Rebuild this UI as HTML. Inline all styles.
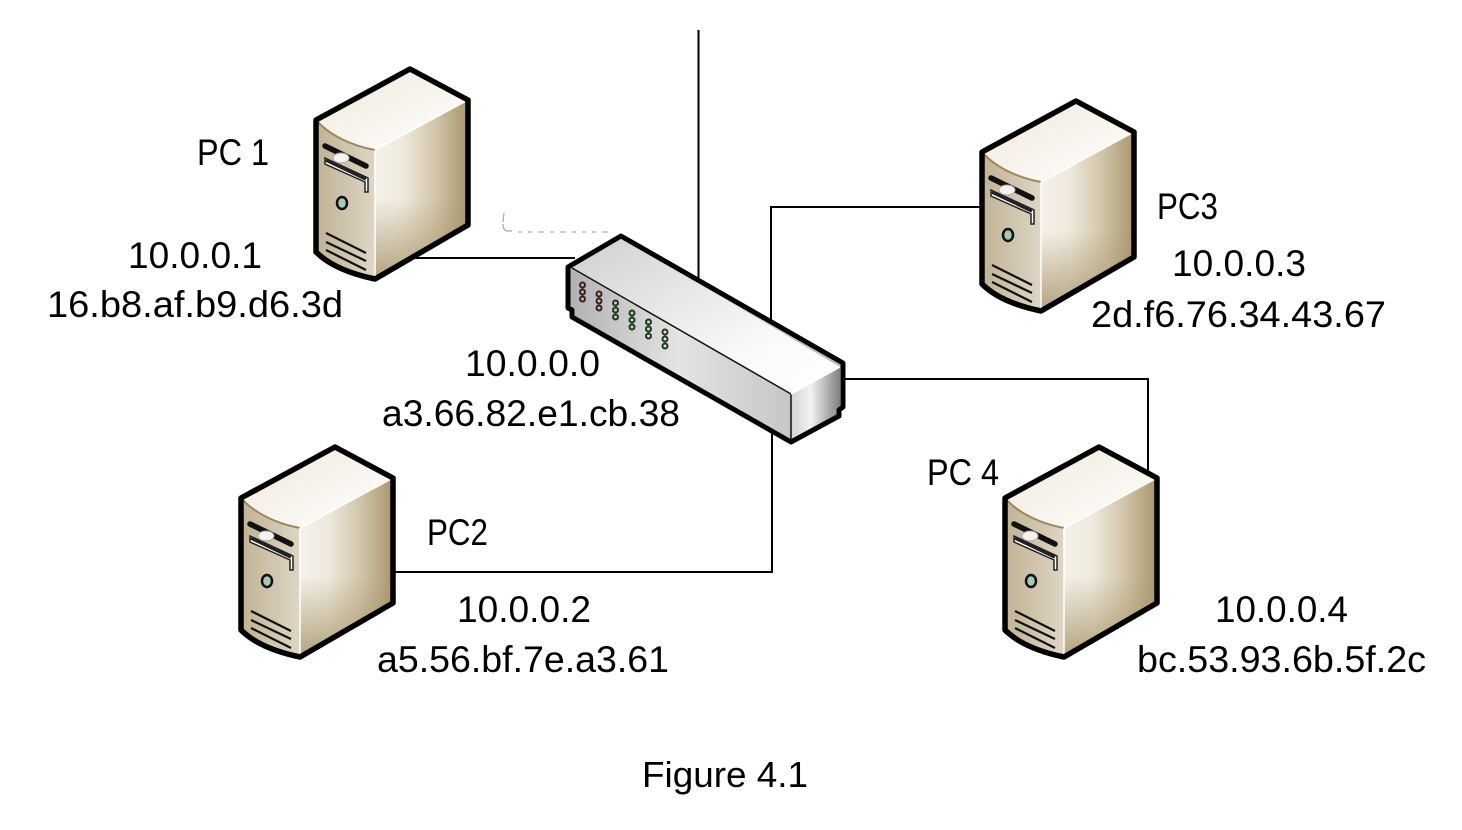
<!DOCTYPE html>
<html><head><meta charset="utf-8">
<style>html,body{margin:0;padding:0;background:#fff}svg{display:block}
text{font-family:"Liberation Sans",sans-serif;fill:#000;font-size:37px}</style></head>
<body>
<svg width="1462" height="830" viewBox="0 0 1462 830" xmlns="http://www.w3.org/2000/svg">
<defs>
<linearGradient id="side" x1="0" y1="0" x2="1" y2="0"><stop offset="0" stop-color="#f4f1e9"/><stop offset=".3" stop-color="#efeade"/><stop offset=".65" stop-color="#d2c5aa"/><stop offset="1" stop-color="#a8966c"/></linearGradient>
<linearGradient id="sideV" x1="0" y1="0" x2="0" y2="1"><stop offset=".55" stop-color="#a8966c" stop-opacity="0"/><stop offset="1" stop-color="#a8966c" stop-opacity=".85"/></linearGradient>
<linearGradient id="front" x1="0" y1="0" x2="1" y2="0"><stop offset="0" stop-color="#c0b294"/><stop offset=".6" stop-color="#eeeadf"/><stop offset="1" stop-color="#d4cab4"/></linearGradient>
<linearGradient id="top" x1="0" y1="0" x2="1" y2="1"><stop offset="0" stop-color="#efe9da"/><stop offset="1" stop-color="#ffffff"/></linearGradient>
<linearGradient id="swTop" x1="0" y1="0" x2="1" y2="1"><stop offset="0" stop-color="#d0d0d0"/><stop offset=".7" stop-color="#fafafa"/><stop offset="1" stop-color="#ffffff"/></linearGradient>
<linearGradient id="swFront" x1="0" y1="0" x2="1" y2="0"><stop offset="0" stop-color="#b0b0b0"/><stop offset=".4" stop-color="#e4e4e4"/><stop offset="1" stop-color="#b8b8b8"/></linearGradient>
<linearGradient id="swEnd" x1="0" y1="0" x2="1" y2="0"><stop offset="0" stop-color="#d4d4d4"/><stop offset=".4" stop-color="#f2f2f2"/><stop offset="1" stop-color="#808080"/></linearGradient>
<g id="pc">
<path d="M1 52 L95 1 L153 32 L153 157 L60 211 C36 206 15 198 1 184 Z" fill="url(#front)"/>
<path d="M60 82 L153 32 L153 157 L60 211 Z" fill="url(#side)"/>
<path d="M60 82 L153 32 L153 157 L60 211 Z" fill="url(#sideV)"/>
<path d="M1 52 L95 1 L153 32 L60 82 C38 78 15 68 1 52 Z" fill="url(#top)"/>
<path d="M1 52 C15 68 38 78 60 82" fill="none" stroke="#a0845c" stroke-width="2"/>
<path d="M60 82 L153 32 M60 82 L60 211" stroke="#fff" stroke-width="1.500" fill="none"/>
<path d="M1 52 L95 1 L153 32 L153 157 L60 211 C36 206 15 198 1 184 Z" fill="none" stroke="#000" stroke-width="5.500" stroke-linejoin="round"/>
<path d="M10 78 L51 98" stroke="#111" stroke-width="5.500" stroke-linecap="round"/>
<path d="M10 90 L53 110 L53 124 L50 124 L50 114 L10 96 Z" fill="#fff" stroke="#222" stroke-width="1.500"/>
<path d="M11 92 L51 111" stroke="#222" stroke-width="3.500"/>
<ellipse cx="26" cy="90" rx="8" ry="5" fill="#f4f2ea" stroke="#aaa" stroke-width="1"/>
<ellipse cx="27" cy="135" rx="5" ry="6" fill="#a8c8b4" stroke="#111" stroke-width="2.500"/>
<path d="M11 165 L51 185 M11 174 L51 193 M11 182 L51 202" stroke="#111" stroke-width="2.200" fill="none"/>
</g>
</defs>

<g stroke="#000" stroke-width="2" fill="none">
<path d="M698.500 30V285"/>
<path d="M410 258H575"/>
<path d="M985 207H771V330"/>
<path d="M835 379H1148V475"/>
<path d="M390 572H772V430"/>
</g>

<use href="#pc" x="315" y="68"/>
<use href="#pc" x="981" y="100"/>
<use href="#pc" x="240" y="446"/>
<use href="#pc" x="1004" y="446"/>

<path d="M504 213 L503 222 M503 224 Q503 231 508 231 H512 M518 232H522 M528 232H532 M538 232H544 M550 232H554 M560 232H566 M572 232H576 M582 232H586 M592 232H596 M602 232H608" stroke="#aaa" stroke-width="1.200" fill="none"/>

<path d="M568 267 L621 236 L843 363 L843 407 L839 410 L839 416 L791 442 L572 317 L572 310 L568 308 Z" fill="url(#swFront)"/>
<path d="M572 268 L621 238 L840 367 L791 394 Z" fill="url(#swTop)"/>
<path d="M791 394 L840 367 L840 408 L836 411 L836 415 L791 440 Z" fill="url(#swEnd)"/>
<path d="M572 268 L791 394 M791 394 L791 442" stroke="#111" stroke-width="1.500" fill="none"/>
<path d="M791 394 L840 367" stroke="#fff" stroke-width="1.500"/>
<path d="M568 267 L621 236 L843 363 L843 407 L839 410 L839 416 L791 442 L572 317 L572 310 L568 308 Z" fill="none" stroke="#000" stroke-width="5" stroke-linejoin="round"/>
<g fill="none" stroke-width="2">
<g stroke="#3a2020"><circle cx="582.500" cy="285" r="2.500"/><circle cx="582.500" cy="292" r="2.500"/><circle cx="582.500" cy="299" r="2.500"/>
<circle cx="599" cy="294" r="2.500"/><circle cx="599" cy="301" r="2.500"/><circle cx="599" cy="308" r="2.500"/></g>
<g stroke="#1e3a1e"><circle cx="615.500" cy="303" r="2.500"/><circle cx="615.500" cy="310" r="2.500"/><circle cx="615.500" cy="317" r="2.500"/>
<circle cx="632" cy="313" r="2.500"/><circle cx="632" cy="320" r="2.500"/><circle cx="632" cy="327" r="2.500"/>
<circle cx="648.500" cy="322" r="2.500"/><circle cx="648.500" cy="329" r="2.500"/><circle cx="648.500" cy="336" r="2.500"/>
<circle cx="665" cy="332" r="2.500"/><circle cx="665" cy="339" r="2.500"/><circle cx="665" cy="346" r="2.500"/></g>
</g>

<text x="197" y="165" textLength="72" lengthAdjust="spacingAndGlyphs">PC 1</text>
<text x="128" y="268" textLength="134" lengthAdjust="spacingAndGlyphs">10.0.0.1</text>
<text x="47" y="317" textLength="296" lengthAdjust="spacingAndGlyphs">16.b8.af.b9.d6.3d</text>
<text x="1157" y="219" textLength="61" lengthAdjust="spacingAndGlyphs">PC3</text>
<text x="1172" y="276" textLength="134" lengthAdjust="spacingAndGlyphs">10.0.0.3</text>
<text x="1091" y="327" textLength="295" lengthAdjust="spacingAndGlyphs">2d.f6.76.34.43.67</text>
<text x="465" y="376" textLength="135" lengthAdjust="spacingAndGlyphs">10.0.0.0</text>
<text x="382" y="426" textLength="298" lengthAdjust="spacingAndGlyphs">a3.66.82.e1.cb.38</text>
<text x="427" y="545" textLength="61" lengthAdjust="spacingAndGlyphs">PC2</text>
<text x="457" y="622" textLength="134" lengthAdjust="spacingAndGlyphs">10.0.0.2</text>
<text x="377" y="672" textLength="292" lengthAdjust="spacingAndGlyphs">a5.56.bf.7e.a3.61</text>
<text x="927" y="485" textLength="72" lengthAdjust="spacingAndGlyphs">PC 4</text>
<text x="1215" y="622" textLength="133" lengthAdjust="spacingAndGlyphs">10.0.0.4</text>
<text x="1137" y="672" textLength="289" lengthAdjust="spacingAndGlyphs">bc.53.93.6b.5f.2c</text>
<text x="642" y="787" textLength="166" lengthAdjust="spacingAndGlyphs" style="font-size:36px">Figure 4.1</text>
</svg>
</body></html>
